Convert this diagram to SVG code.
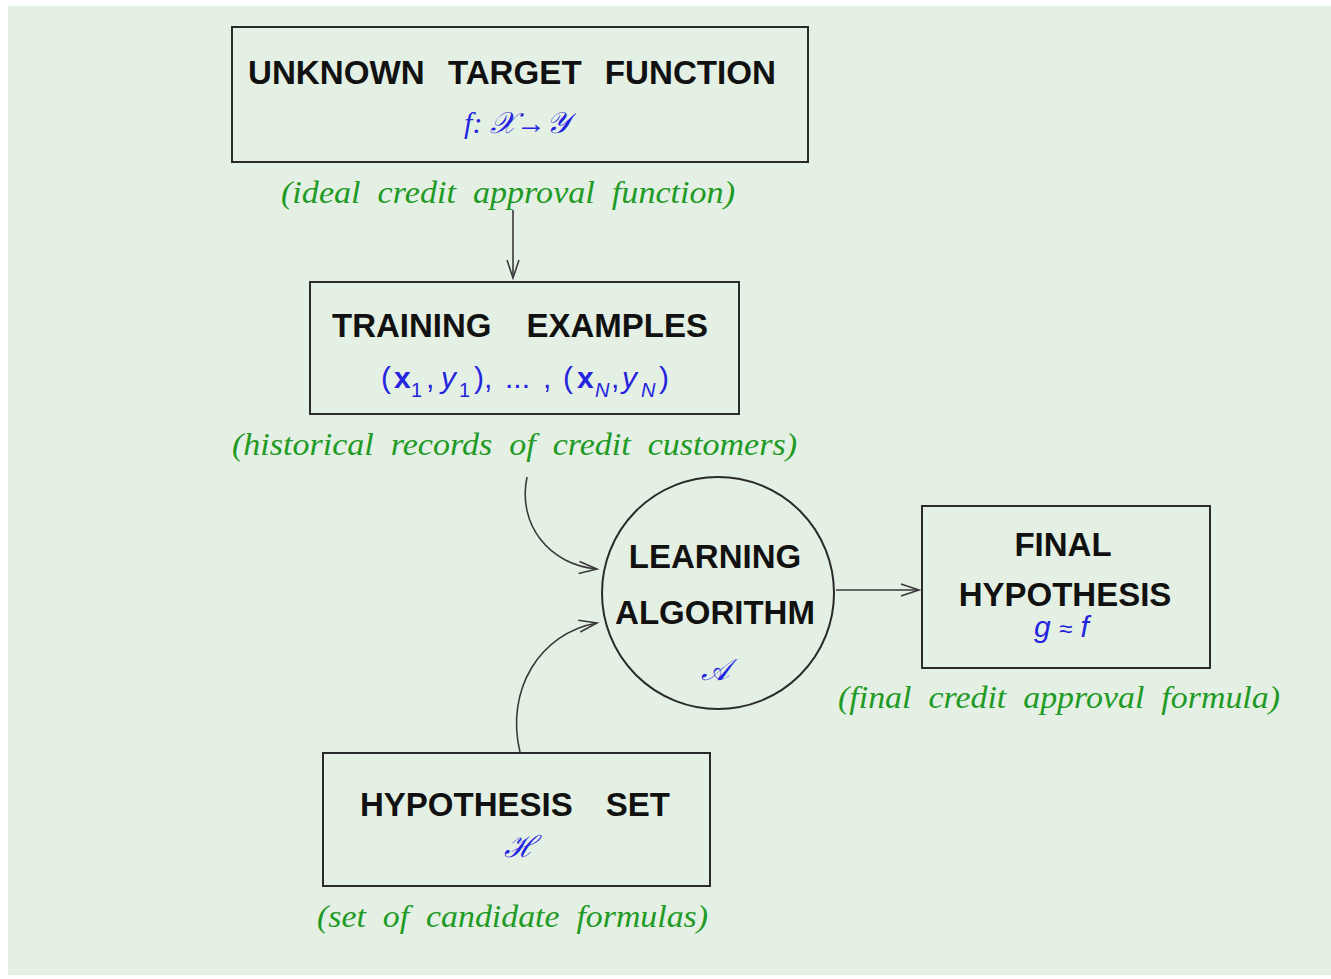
<svg xmlns="http://www.w3.org/2000/svg" width="1331" height="979" viewBox="0 0 1331 979">
<style>
.box{fill:none;stroke:#2a2a2a;stroke-width:2}
.ttl{font-family:"Liberation Sans",Arial,sans-serif;font-weight:bold;font-size:33px;fill:#111}
.cap{font-family:"Liberation Serif","Times New Roman",serif;font-style:italic;font-size:32px;fill:#1f9a24;word-spacing:8px}
.math{font-family:"Liberation Serif","DejaVu Serif",serif;font-style:italic;font-size:30px;fill:#2424e0}
.msans{font-family:"Liberation Sans",Arial,sans-serif;font-size:30px;fill:#2424e0}
.sub{font-size:20px}
.con{fill:none;stroke:#3a3a3a;stroke-width:1.6}
</style>
<defs>
<marker id="ah" markerUnits="userSpaceOnUse" markerWidth="24" markerHeight="16" refX="20" refY="8" orient="auto">
<path d="M2,2 L20,8 L2,14" fill="none" stroke="#3a3a3a" stroke-width="1.6"/>
</marker>
</defs>
<rect x="0" y="0" width="1331" height="979" fill="#ffffff"/>
<rect x="8" y="6" width="1323" height="969" fill="#e4f0e4"/>

<g id="target">
<rect class="box" x="232" y="27" width="576" height="135"/>
<text class="ttl" x="248" y="84" word-spacing="14" textLength="528" lengthAdjust="spacingAndGlyphs">UNKNOWN TARGET FUNCTION</text>
<text class="math" x="517" y="133" text-anchor="middle">f: 𝒳→𝒴</text>
<text class="cap" x="281" y="203" textLength="454" lengthAdjust="spacingAndGlyphs">(ideal credit approval function)</text>
</g>

<g id="training">
<rect class="box" x="310" y="282" width="429" height="132"/>
<text class="ttl" x="332" y="337" word-spacing="26" textLength="376" lengthAdjust="spacingAndGlyphs">TRAINING EXAMPLES</text>
<text class="msans" y="388"><tspan x="381">(</tspan><tspan x="394" font-weight="bold">x</tspan><tspan x="411" dy="9" class="sub">1</tspan><tspan x="426" dy="-9">,</tspan><tspan x="441" font-style="italic">y</tspan><tspan x="459" dy="9" class="sub">1</tspan><tspan x="474" dy="-9">),</tspan><tspan x="505">...</tspan><tspan x="543">,</tspan><tspan x="563">(</tspan><tspan x="577" font-weight="bold">x</tspan><tspan x="595" dy="9" class="sub" font-style="italic">N</tspan><tspan x="611" dy="-9">,</tspan><tspan x="622" font-style="italic">y</tspan><tspan x="641" dy="9" class="sub" font-style="italic">N</tspan><tspan x="659" dy="-9">)</tspan></text>
<text class="cap" x="232" y="455" textLength="565" lengthAdjust="spacingAndGlyphs">(historical records of credit customers)</text>
</g>

<g id="learning">
<circle class="box" cx="718" cy="593" r="116"/>
<text class="ttl" x="715" y="568" text-anchor="middle">LEARNING</text>
<text class="ttl" x="715" y="624" text-anchor="middle">ALGORITHM</text>
<text class="math" x="715" y="680" text-anchor="middle">𝒜</text>
</g>

<g id="final">
<rect class="box" x="922" y="506" width="288" height="162"/>
<text class="ttl" x="1063" y="556" text-anchor="middle">FINAL</text>
<text class="ttl" x="1065" y="606" text-anchor="middle">HYPOTHESIS</text>
<text class="msans" x="1034" y="637" font-style="italic">g <tspan font-style="normal" font-size="24">≈</tspan> f</text>
<text class="cap" x="838" y="708" textLength="442" lengthAdjust="spacingAndGlyphs">(final credit approval formula)</text>
</g>

<g id="hypset">
<rect class="box" x="323" y="753" width="387" height="133"/>
<text class="ttl" x="360" y="816" word-spacing="24" textLength="310" lengthAdjust="spacingAndGlyphs">HYPOTHESIS SET</text>
<text class="math" x="520" y="857" text-anchor="middle">ℋ</text>
<text class="cap" x="317" y="927" textLength="391" lengthAdjust="spacingAndGlyphs">(set of candidate formulas)</text>
</g>

<g id="connectors">
<line class="con" x1="513" y1="210" x2="513" y2="278" marker-end="url(#ah)"/>
<path class="con" d="M527,477 C517,525 550,565 597,569" marker-end="url(#ah)"/>
<path class="con" d="M520,752 C505,690 540,633 597,623" marker-end="url(#ah)"/>
<line class="con" x1="836" y1="590" x2="919" y2="590" marker-end="url(#ah)"/>
</g>
</svg>
